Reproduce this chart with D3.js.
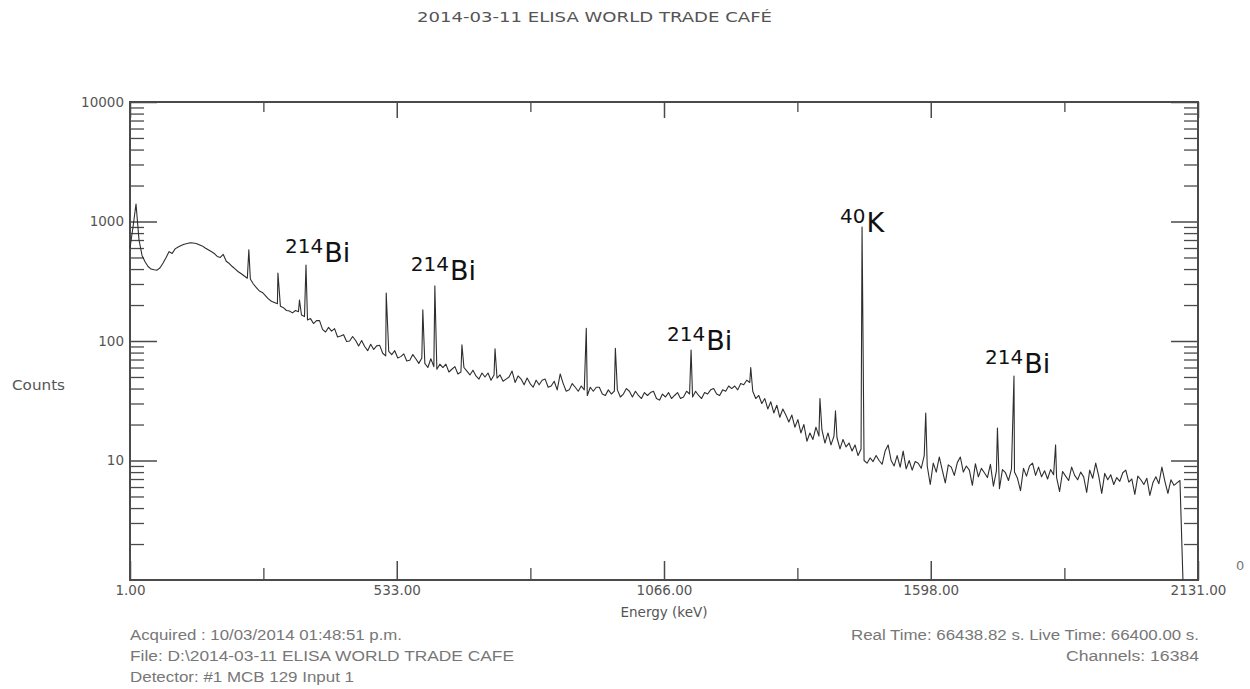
<!DOCTYPE html>
<html>
<head>
<meta charset="utf-8">
<script src="https://cdn.jsdelivr.net/npm/d3@7"></script>
<style>
  body { margin: 0; background: #fff; }
  svg { display: block; }
</style>
</head>
<body>
<svg id="chart" width="1250" height="689"></svg>
<script>
// ---- Spectrum data -------------------------------------------------------
const titleText = "2014-03-11 ELISA WORLD TRADE CAFÉ";

// Background spectrum, one sample every 6 keV starting at 1 keV (counts)
const energyStart = 1;
const energyStep = 6;
const counts = [
  600, 900, 1400, 700, 520, 460, 420, 400, 395, 392,
  410, 450, 500, 560, 540, 590, 612, 630, 645, 655,
  665, 660, 655, 640, 625, 600, 580, 560, 540, 510,
  500, 530, 465, 445, 420, 400, 380, 365, 350, 335,
  330, 300, 280, 262, 255, 240, 225, 215, 210, 205,
  195, 190, 180, 178, 172, 180, 176, 165, 160, 150,
  154, 140, 148, 148, 125, 119, 130, 121, 127, 108,
  110, 113, 99, 100, 109, 101, 91, 101, 90, 83,
  94, 85, 91, 92, 79, 75, 82, 77, 83, 72,
  74, 78, 68, 69, 77, 71, 65, 72, 65, 60,
  71, 61, 58, 64, 60, 64, 55, 58, 61, 53,
  55, 60, 56, 52, 57, 51, 48, 54, 50, 54,
  47, 52, 49, 52, 46, 48, 50, 56, 45, 51,
  48, 43, 49, 44, 41, 47, 43, 47, 48, 41,
  42, 46, 39, 53, 44, 38, 39, 44, 41, 38,
  42, 39, 35, 41, 38, 41, 41, 36, 35, 39,
  36, 38, 39, 34, 36, 40, 38, 34, 38, 35,
  33, 37, 35, 37, 38, 33, 32, 36, 34, 37,
  33, 35, 37, 33, 34, 38, 36, 34, 38, 35,
  33, 37, 36, 39, 40, 36, 35, 39, 38, 42,
  40, 42, 39, 44, 43, 47, 45, 38, 33, 35,
  30, 33, 27, 31, 25, 29, 23, 27, 24, 21,
  24, 19, 22, 17, 20, 14.5, 17, 15, 19, 16,
  18, 14, 17, 13.5, 16, 15.5, 12.5, 15, 13, 14,
  12, 13.5, 11, 12.5, 10, 9.5, 10.5, 9.8, 11, 10,
  9.3, 12, 13.5, 10, 9, 11, 8.8, 12, 8.5, 10,
  8.3, 9.8, 9.5, 8.6, 11, 9, 6.3, 9.5, 8, 10.7,
  8.3, 6.5, 9.2, 8.8, 7.5, 9.6, 10.7, 8, 9, 8.3,
  6.2, 9.4, 7.3, 8.6, 7.9, 7.2, 9.3, 6.1, 8.2, 5.8,
  8.4, 7.9, 6.8, 8.5, 8, 7.1, 5.6, 8.6, 7.4, 9,
  9.5, 7.5, 8.8, 7.3, 8.2, 7, 8.4, 7.6, 7.2, 5.5,
  8.1, 7.4, 6.8, 8.8, 7.5, 6.9, 8, 7.3, 5.4, 8.3,
  7.1, 9.5, 7.4, 5.3, 7.8, 6.9, 7.6, 6.3, 7.2, 6.7,
  7.9, 8.3, 6.6, 7, 5.2, 7.4, 6.9, 6.3, 7.1, 5.1,
  6.5, 7.3, 6.4, 8.8, 6.7, 5.3, 6.9, 6.2, 6.5, 6.8,
  0
];

// Photopeaks (keV, counts at the top of the peak)
const peakEnergies = [238, 296, 339, 352, 512, 585, 609, 663, 729, 911, 969,
                      1120, 1239, 1377, 1408, 1461, 1588, 1731, 1764, 1847];
const peakCounts   = [580, 370, 220, 433, 252, 182, 289, 93, 86, 128, 87,
                      84, 60, 33, 26, 900, 25, 18.7, 51, 13.5];

// Identified lines: isotope mass number, element, peak energy (keV)
const labelMass    = ["214", "214", "214", "40", "214"];
const labelElement = ["Bi", "Bi", "Bi", "K", "Bi"];
const labelEnergy  = [352, 609, 1120, 1461, 1764];

// Axis ticks
const xTickValues = [1, 533, 1066, 1598, 2131];
const xTickLabels = ["1.00", "533.00", "1066.00", "1598.00", "2131.00"];
const yTickValues = [10, 100, 1000, 10000];
const yTickLabels = ["10", "100", "1000", "10000"];

// Footer information
const footerLeft  = ["Acquired : 10/03/2014 01:48:51 p.m.",
                     "File: D:\\2014-03-11 ELISA WORLD TRADE CAFE",
                     "Detector: #1 MCB 129 Input 1"];
const footerRight = ["Real Time: 66438.82 s.   Live Time: 66400.00 s.",
                     "Channels: 16384"];

// ---- Layout --------------------------------------------------------------
const plot = { left: 130, right: 1198, top: 102, bottom: 580 };
const axisColor = "#4a4a4a";
const textColor = "#555";
const sans = "'DejaVu Sans', 'Liberation Sans', sans-serif";
const arial = "'Liberation Sans', Arial, sans-serif";
// label offsets relative to the top of its peak (px)
const labelNudge = [[-21, -3], [-24, -6], [-24, 0], [-22, 5], [-29, -3]];

const svg = d3.select("#chart");

const x = d3.scaleLinear().domain([1, 2131]).range([plot.left, plot.right]);
const y = d3.scaleLog().domain([1, 10000]).range([plot.bottom, plot.top]).clamp(true);

// minor ticks
const xMinor = d3.pairs(xTickValues).map(([a, b]) => (a + b) / 2);
const yMinor = [];
[1, 10, 100, 1000].forEach(d => { for (let k = 2; k <= 9; k++) yMinor.push(d * k); });

function styleTicks(g, width) {
  g.select(".domain").remove();
  g.selectAll(".tick line").attr("stroke", axisColor).attr("stroke-width", width);
  g.selectAll(".tick text")
    .attr("fill", textColor)
    .attr("font-family", sans)
    .attr("font-size", 13.5);
}

// left axis
svg.append("g").attr("transform", `translate(${plot.left},0)`)
  .call(d3.axisLeft(y).tickValues(yMinor).tickSize(-14).tickFormat(""))
  .call(g => styleTicks(g, 1.3));
svg.append("g").attr("transform", `translate(${plot.left},0)`)
  .call(d3.axisLeft(y).tickValues(yTickValues).tickSize(-27).tickPadding(6)
        .tickFormat((d, i) => yTickLabels[i]))
  .call(g => styleTicks(g, 1.5));

// right axis
svg.append("g").attr("transform", `translate(${plot.right},0)`)
  .call(d3.axisRight(y).tickValues(yMinor).tickSize(-14).tickFormat(""))
  .call(g => styleTicks(g, 1.3));
svg.append("g").attr("transform", `translate(${plot.right},0)`)
  .call(d3.axisRight(y).tickValues(yTickValues).tickSize(-27).tickFormat(""))
  .call(g => styleTicks(g, 1.5));

// bottom axis
svg.append("g").attr("transform", `translate(0,${plot.bottom})`)
  .call(d3.axisBottom(x).tickValues(xMinor).tickSize(-12).tickFormat(""))
  .call(g => styleTicks(g, 1.3));
svg.append("g").attr("transform", `translate(0,${plot.bottom})`)
  .call(d3.axisBottom(x).tickValues(xTickValues).tickSize(-19).tickPadding(5)
        .tickFormat((d, i) => xTickLabels[i]))
  .call(g => styleTicks(g, 1.5));

// top axis
svg.append("g").attr("transform", `translate(0,${plot.top})`)
  .call(d3.axisTop(x).tickValues(xMinor).tickSize(-10).tickFormat(""))
  .call(g => styleTicks(g, 1.3));
svg.append("g").attr("transform", `translate(0,${plot.top})`)
  .call(d3.axisTop(x).tickValues(xTickValues).tickSize(-16).tickFormat(""))
  .call(g => styleTicks(g, 1.5));

// frame
svg.append("rect")
  .attr("x", plot.left).attr("y", plot.top)
  .attr("width", plot.right - plot.left).attr("height", plot.bottom - plot.top)
  .attr("fill", "none").attr("stroke", axisColor).attr("stroke-width", 2);

// ---- Spectrum line -------------------------------------------------------
const points = counts.map((c, i) => ({ e: energyStart + i * energyStep, c }))
  .concat(peakEnergies.map((e, i) => ({ e, c: peakCounts[i] })))
  .sort((a, b) => a.e - b.e);

const line = d3.line()
  .x(d => x(d.e))
  .y(d => y(Math.max(d.c, 1)));

svg.append("path")
  .datum(points)
  .attr("d", line)
  .attr("fill", "none")
  .attr("stroke", "#2e2e2e")
  .attr("stroke-width", 1.1)
  .attr("stroke-linejoin", "round");

// ---- Peak identification labels -----------------------------------------
labelEnergy.forEach((e, i) => {
  const top = peakCounts[peakEnergies.indexOf(e)];
  const t = svg.append("text")
    .attr("x", x(e) + labelNudge[i][0])
    .attr("y", y(top) + labelNudge[i][1])
    .attr("font-family", sans)
    .attr("fill", "#111");
  t.append("tspan").attr("font-size", 20).attr("dy", -9).text(labelMass[i]);
  t.append("tspan").attr("font-size", 27).attr("dy", 9).attr("dx", 1).text(labelElement[i]);
});

// ---- Titles and captions -------------------------------------------------
svg.append("text")
  .attr("x", 417).attr("y", 22)
  .attr("font-family", sans).attr("font-size", 14.5)
  .attr("fill", textColor)
  .attr("textLength", 355).attr("lengthAdjust", "spacingAndGlyphs")
  .text(titleText);

svg.append("text")
  .attr("x", 12).attr("y", 390)
  .attr("font-family", sans).attr("font-size", 13.5)
  .attr("fill", textColor)
  .attr("textLength", 53).attr("lengthAdjust", "spacingAndGlyphs")
  .text("Counts");

svg.append("text")
  .attr("x", x(1066)).attr("y", 617)
  .attr("text-anchor", "middle")
  .attr("font-family", sans).attr("font-size", 13.5)
  .attr("fill", textColor)
  .text("Energy (keV)");

svg.append("text")
  .attr("x", 1236).attr("y", 570)
  .attr("font-family", sans).attr("font-size", 13)
  .attr("fill", "#777")
  .text("0");

const leftWidths = [272, 384, 224];
footerLeft.forEach((s, i) => {
  svg.append("text")
    .attr("x", 130).attr("y", 640 + i * 21)
    .attr("font-family", arial).attr("font-size", 14)
    .attr("fill", "#777")
    .attr("textLength", leftWidths[i]).attr("lengthAdjust", "spacingAndGlyphs")
    .text(s);
});
const rightWidths = [348, 133];
footerRight.forEach((s, i) => {
  svg.append("text")
    .attr("x", 1199 - rightWidths[i]).attr("y", 640 + i * 21)
    .attr("font-family", arial).attr("font-size", 14)
    .attr("fill", "#777")
    .attr("textLength", rightWidths[i]).attr("lengthAdjust", "spacingAndGlyphs")
    .text(s);
});
</script>
</body>
</html>
